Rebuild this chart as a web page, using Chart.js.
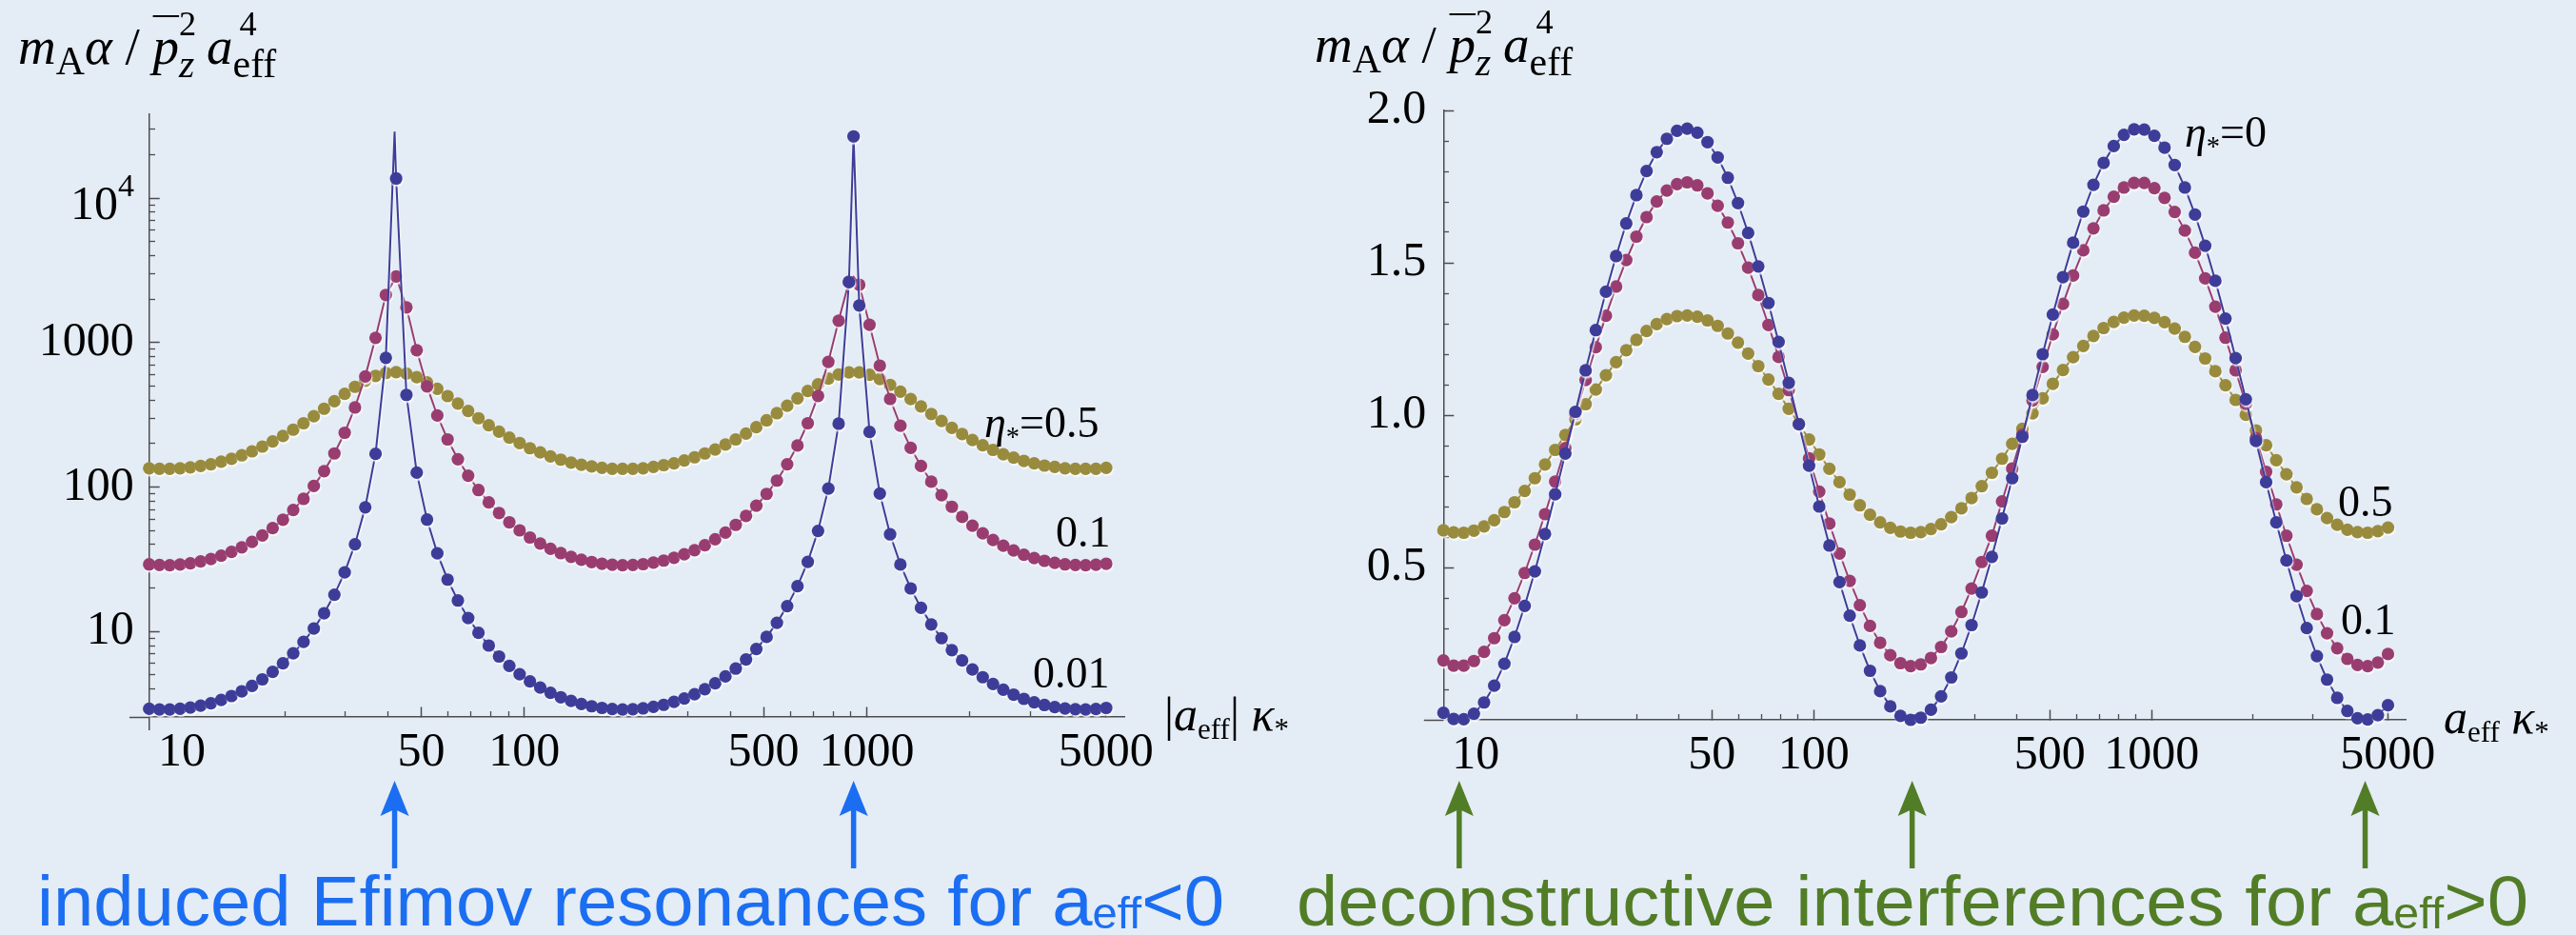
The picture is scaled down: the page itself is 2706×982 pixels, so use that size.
<!DOCTYPE html>
<html>
<head>
<meta charset="utf-8">
<title>Three-body loss rate versus effective scattering length</title>
<script src="https://cdn.jsdelivr.net/npm/chart.js@4.4.1/dist/chart.umd.min.js"></script>
<style>
  html, body { margin: 0; padding: 0; }
  body { width: 2706px; height: 982px; position: relative; overflow: hidden; background: #e4ecf5; }
  canvas { position: absolute; top: 0; }
  #chartNeg { left: 0; }
  #chartPos { left: 1353px; }
  .m { position: absolute; white-space: nowrap; font-family: 'Liberation Serif', 'Times New Roman', serif; color: #000; line-height: 1; }
  .m i { font-style: italic; }
  .sb { font-size: 0.62em; position: relative; top: 0.3em; }
  .ttl .sa { font-size: 0.76em; position: relative; top: 0.27em; }
  .ov { text-decoration: overline; text-decoration-thickness: 2px; }
  .stk { display: inline-block; position: relative; height: 0; }
  .stk .u { position: absolute; left: 0; bottom: 0.66em; font-size: 0.66em; line-height: 1; }
  .stk .d { position: absolute; left: 0; top: -0.48em; font-size: 0.76em; line-height: 1; }
  .cap { position: absolute; white-space: nowrap; font-family: 'Liberation Sans', Arial, sans-serif; font-size: 74px; line-height: 1; transform-origin: 0 0; }
  .cap .csb { font-size: 0.62em; position: relative; top: 0.06em; }
</style>
</head>
<body>
<canvas id="chartNeg" width="1353" height="982"></canvas>
<canvas id="chartPos" width="1353" height="982"></canvas>

<div class="m ttl" style="left:19px;top:21px;font-size:55px"><i>m</i><span class="sa">A</span><i>α</i> / <i class="ov">p</i><span class="stk" style="width:29px"><span class="u">2</span><span class="d"><i>z</i></span></span><i>a</i><span class="stk" style="width:50px"><span class="u" style="left:7px">4</span><span class="d">eff</span></span></div>
<div class="m ttl" style="left:1381px;top:19px;font-size:55px"><i>m</i><span class="sa">A</span><i>α</i> / <i class="ov">p</i><span class="stk" style="width:29px"><span class="u">2</span><span class="d"><i>z</i></span></span><i>a</i><span class="stk" style="width:50px"><span class="u" style="left:7px">4</span><span class="d">eff</span></span></div>

<div class="m" style="left:1034px;top:421px;font-size:46px"><i>η</i><span class="sb">*</span>=0.5</div>
<div class="m" style="left:1109px;top:536px;font-size:46px">0.1</div>
<div class="m" style="left:1085px;top:684px;font-size:46px">0.01</div>
<div class="m" style="left:1223px;top:725px;font-size:50px">|<i>a</i><span class="sb">eff</span>| <i>κ</i><span class="sb">*</span></div>

<div class="m" style="left:2295px;top:116px;font-size:46px"><i>η</i><span class="sb">*</span>=0</div>
<div class="m" style="left:2456px;top:504px;font-size:46px">0.5</div>
<div class="m" style="left:2459px;top:628px;font-size:46px">0.1</div>
<div class="m" style="left:2567px;top:728px;font-size:50px"><i>a</i><span class="sb">eff</span> <i>κ</i><span class="sb">*</span></div>

<div class="cap" data-w="1247" style="left:39px;top:910px;color:#1b6ef2">induced Efimov resonances for a<span class="csb">eff</span>&lt;0</div>
<div class="cap" data-w="1294" style="left:1362px;top:910px;color:#527d27">deconstructive interferences for a<span class="csb">eff</span>&gt;0</div>

<script>
// Sample points |a_eff| κ* shared by every curve
const aGrid = [8.030, 8.605, 9.222, 9.883, 10.591, 11.350, 12.163, 13.034, 13.968, 14.969,
  16.042, 17.191, 18.423, 19.743, 21.157, 22.673, 24.298, 26.039, 27.904, 29.904,
  32.046, 34.343, 36.803, 39.440, 42.266, 45.294, 48.540, 52.018, 55.745, 59.739,
  64.019, 68.606, 73.522, 78.790, 84.435, 90.485, 96.968, 103.92, 111.36, 119.34,
  127.89, 137.05, 146.87, 157.40, 168.68, 180.76, 193.71, 207.59, 222.47, 238.41,
  255.49, 273.79, 293.41, 314.43, 336.96, 361.11, 386.98, 414.71, 444.42, 476.26,
  510.39, 546.96, 586.15, 628.14, 673.15, 721.38, 773.07, 828.46, 887.82, 951.43,
  1019.6, 1092.7, 1170.9, 1254.8, 1344.8, 1441.1, 1544.4, 1655.0, 1773.6, 1900.7,
  2036.9, 2182.8, 2339.2, 2506.8, 2686.4, 2878.9, 3085.2, 3306.2, 3543.1, 3797.0,
  4069.0, 4360.6, 4673.0, 5007.8];

// a_eff < 0 : induced Efimov resonances
const negEta001 = [2.92, 2.89, 2.89, 2.92, 2.98, 3.07, 3.19, 3.36, 3.58, 3.86,
  4.21, 4.67, 5.26, 6.03, 7.07, 8.48, 10.5, 13.4, 18.0, 25.7,
  40.2, 72.5, 170, 785, 13700, 435, 126, 59.6, 34.8, 22.9,
  16.4, 12.4, 9.80, 8.00, 6.72, 5.78, 5.07, 4.52, 4.10, 3.77,
  3.51, 3.31, 3.15, 3.04, 2.96, 2.91, 2.89, 2.90, 2.94, 3.01,
  3.11, 3.26, 3.44, 3.68, 3.99, 4.38, 4.89, 5.54, 6.41, 7.58,
  9.19, 11.5, 15.0, 20.6, 30.4, 49.8, 97.7, 275, 2620, 1810,
  241, 90.3, 47.1, 29.1, 19.9, 14.6, 11.2, 9.00, 7.44, 6.31,
  5.47, 4.83, 4.34, 3.96, 3.66, 3.42, 3.24, 3.10, 3.00, 2.93,
  2.90, 2.89, 2.91, 2.96];
const negEta01 = [29.2, 28.9, 28.8, 29.1, 29.7, 30.6, 31.8, 33.5, 35.6, 38.3,
  41.8, 46.3, 52.0, 59.5, 69.5, 82.9, 102, 129, 171, 238,
  356, 584, 1080, 2140, 2870, 1755, 887, 498, 313, 214,
  156, 120, 95.4, 78.4, 66.2, 57.1, 50.2, 44.8, 40.7, 37.4,
  34.9, 32.9, 31.4, 30.3, 29.5, 29.0, 28.8, 28.9, 29.3, 30.0,
  31.0, 32.4, 34.3, 36.6, 39.6, 43.5, 48.4, 54.8, 63.2, 74.3,
  89.7, 111, 144, 194, 277, 428, 736, 1420, 2640, 2520,
  1330, 694, 408, 266, 187, 140, 109, 87.9, 73.1, 62.2,
  54.1, 47.9, 43.1, 39.3, 36.4, 34.0, 32.3, 30.9, 29.9, 29.2,
  28.9, 28.8, 29.0, 29.5];
const negEta05 = [135, 134, 134, 135, 137, 140, 144, 150, 157, 166,
  177, 191, 207, 226, 250, 277, 310, 349, 393, 442,
  495, 546, 589, 617, 625, 611, 577, 531, 479, 427,
  379, 337, 300, 268, 242, 220, 202, 186, 174, 163,
  155, 148, 143, 139, 136, 134, 134, 134, 135, 138,
  142, 146, 153, 161, 171, 182, 197, 214, 235, 260,
  290, 325, 366, 412, 463, 515, 564, 602, 623, 622,
  599, 560, 510, 458, 407, 362, 321, 287, 257, 233,
  212, 195, 181, 169, 160, 152, 146, 141, 138, 135,
  134, 134, 134, 136];
// resonance tips of the narrow curves
const tipX001 = [41.83, 915.9];
const tipY001 = [28900, 26800];
const tipDot001 = [false, true];
const tipX01 = [915.9];
const tipY01 = [2850];

// a_eff > 0 : deconstructive interferences
const posEta0 = [0.023, 0.003, 0.002, 0.020, 0.057, 0.112, 0.184, 0.272, 0.374, 0.487,
  0.610, 0.740, 0.874, 1.011, 1.147, 1.279, 1.405, 1.522, 1.629, 1.722,
  1.801, 1.863, 1.907, 1.933, 1.940, 1.927, 1.896, 1.846, 1.779, 1.696,
  1.598, 1.488, 1.368, 1.240, 1.106, 0.970, 0.834, 0.700, 0.572, 0.452,
  0.342, 0.244, 0.161, 0.094, 0.044, 0.013, 0.000, 0.007, 0.033, 0.077,
  0.139, 0.218, 0.311, 0.418, 0.535, 0.661, 0.793, 0.929, 1.066, 1.200,
  1.330, 1.453, 1.566, 1.668, 1.756, 1.828, 1.883, 1.920, 1.938, 1.937,
  1.917, 1.878, 1.821, 1.747, 1.658, 1.556, 1.441, 1.317, 1.187, 1.052,
  0.915, 0.780, 0.648, 0.523, 0.406, 0.301, 0.209, 0.132, 0.072, 0.029,
  0.005, 0.001, 0.015, 0.048];
const posEta01 = [0.195, 0.178, 0.178, 0.193, 0.223, 0.268, 0.327, 0.399, 0.482, 0.575,
  0.675, 0.782, 0.892, 1.004, 1.115, 1.223, 1.326, 1.422, 1.509, 1.586,
  1.650, 1.701, 1.737, 1.758, 1.764, 1.754, 1.728, 1.687, 1.632, 1.564,
  1.484, 1.394, 1.296, 1.191, 1.082, 0.970, 0.858, 0.749, 0.644, 0.546,
  0.456, 0.376, 0.308, 0.253, 0.212, 0.186, 0.176, 0.182, 0.203, 0.239,
  0.290, 0.354, 0.431, 0.518, 0.604, 0.717, 0.825, 0.936, 1.048, 1.158,
  1.265, 1.365, 1.458, 1.541, 1.613, 1.672, 1.717, 1.747, 1.762, 1.762,
  1.745, 1.713, 1.667, 1.606, 1.533, 1.449, 1.356, 1.254, 1.147, 1.037,
  0.925, 0.814, 0.707, 0.604, 0.509, 0.423, 0.347, 0.284, 0.235, 0.200,
  0.180, 0.176, 0.188, 0.216];
const posEta05 = [0.622, 0.615, 0.614, 0.621, 0.635, 0.655, 0.682, 0.714, 0.751, 0.793,
  0.838, 0.886, 0.935, 0.986, 1.036, 1.084, 1.131, 1.174, 1.213, 1.247,
  1.276, 1.299, 1.315, 1.325, 1.327, 1.323, 1.311, 1.293, 1.268, 1.238,
  1.202, 1.161, 1.117, 1.070, 1.021, 0.971, 0.920, 0.871, 0.824, 0.780,
  0.739, 0.704, 0.673, 0.648, 0.630, 0.618, 0.614, 0.616, 0.626, 0.642,
  0.665, 0.694, 0.728, 0.767, 0.811, 0.857, 0.906, 0.955, 1.006, 1.055,
  1.103, 1.148, 1.190, 1.227, 1.260, 1.286, 1.306, 1.320, 1.327, 1.326,
  1.319, 1.305, 1.284, 1.257, 1.224, 1.186, 1.144, 1.098, 1.050, 1.001,
  0.950, 0.901, 0.852, 0.806, 0.763, 0.725, 0.691, 0.662, 0.640, 0.624,
  0.616, 0.614, 0.619, 0.631];

// tick values
const xMajorTicks = [10, 50, 100, 500, 1000, 5000];
const xMinorTicks = [20, 30, 40, 60, 70, 80, 90, 200, 300, 400, 600, 700, 800, 900, 2000, 3000, 4000];
const yNegMajorTicks = [10, 100, 1000, 10000];
const yNegMinorTicks = [3, 4, 5, 6, 7, 8, 9, 20, 30, 40, 50, 60, 70, 80, 90,
  200, 300, 400, 500, 600, 700, 800, 900, 2000, 3000, 4000, 5000, 6000, 7000, 8000, 9000, 20000, 30000];
const yPosMajorTicks = [0.5, 1.0, 1.5, 2.0];
const yPosMinorTicks = [0.1, 0.2, 0.3, 0.4, 0.6, 0.7, 0.8, 0.9, 1.1, 1.2, 1.3, 1.4, 1.6, 1.7, 1.8, 1.9];

// arrow marks under the axes
const resonanceMarks = [41.83, 915.9];
const minimumMarks = [8.94, 195.7, 4286];

const X_MIN = 8.03, X_MAX = 5679, X_AXIS_START = 7.03;
const NEG_Y_MIN = 2.082, NEG_Y_MAX = 38150, NEG_AXIS_Y = 2.575;

const C_BLUE = 'rgb(61,61,153)';
const C_RED = 'rgb(153,61,113)';
const C_OLIVE = 'rgb(153,139,61)';
const AXIS_COLOR = '#4d4d4d';
const SERIF = "'Liberation Serif', 'Times New Roman', serif";
const DOT = 6.6;

function points(xs, ys, dots) {
  return xs.map((x, i) => ({x: x, y: ys[i], dot: dots ? dots[i] : true}));
}
function merged(base, extra) {
  return base.concat(extra).sort((a, b) => a.x - b.x);
}
function curve(label, data, color) {
  return {
    label: label, data: data,
    borderColor: color, backgroundColor: color,
    borderWidth: 2, tension: 0, fill: false, clip: false,
    pointRadius: c => (c.raw && c.raw.dot === false) ? 0 : DOT,
    pointHoverRadius: c => (c.raw && c.raw.dot === false) ? 0 : DOT,
    pointBorderWidth: 0
  };
}
function useTicks(list) {
  return s => { s.ticks = list.map(v => ({value: v})); };
}
function majorAxis(extra) {
  return Object.assign({
    border: {display: true, color: AXIS_COLOR, width: 1.5},
    grid: {display: true, drawOnChartArea: false, drawTicks: true, tickLength: -11, tickColor: AXIS_COLOR, tickWidth: 1.5}
  }, extra);
}
function minorAxis(extra) {
  return Object.assign({
    border: {display: false},
    grid: {display: true, drawOnChartArea: false, drawTicks: true, tickLength: -6, tickColor: AXIS_COLOR, tickWidth: 1.3},
    ticks: {display: false, autoSkip: false}
  }, extra);
}
const xTickOpts = {autoSkip: false, maxRotation: 0, minRotation: 0, padding: 19, color: '#000',
  font: {family: SERIF, size: 50}, callback: v => String(v)};

const paperShadow = {
  id: 'paperShadow',
  beforeDatasetsDraw(chart) {
    const c = chart.ctx; c.save();
    c.shadowColor = 'rgba(255,255,255,0.85)'; c.shadowOffsetX = 1; c.shadowOffsetY = 2; c.shadowBlur = 1.5;
  },
  afterDatasetsDraw(chart) { chart.ctx.restore(); }
};
// the horizontal axis runs on a little past the vertical one
const axisStub = {
  id: 'axisStub',
  afterDraw(chart) {
    const c = chart.ctx, sx = chart.scales.x, sy = chart.scales.y;
    const py = Math.round(sy.getPixelForValue(sx.options.position.y)) + 0.5;
    c.save(); c.strokeStyle = AXIS_COLOR; c.lineWidth = 1.5;
    c.beginPath(); c.moveTo(sx.getPixelForValue(X_AXIS_START), py); c.lineTo(chart.chartArea.left, py); c.stroke();
    c.restore();
  }
};
function arrowMarks(values, color) {
  return {
    id: 'arrowMarks',
    afterDraw(chart) {
      const c = chart.ctx, s = chart.scales.x;
      c.save(); c.fillStyle = color; c.strokeStyle = color; c.lineWidth = 5.5;
      values.forEach(v => {
        const x = s.getPixelForValue(v);
        c.beginPath(); c.moveTo(x, 912); c.lineTo(x, 848); c.stroke();
        c.beginPath(); c.moveTo(x, 820); c.lineTo(x - 15, 857); c.lineTo(x, 850); c.lineTo(x + 15, 857); c.closePath(); c.fill();
      });
      c.restore();
    }
  };
}
const powerLabel = {
  id: 'powerLabel',
  afterDraw(chart) {
    const c = chart.ctx, s = chart.scales.y;
    const y = s.getPixelForValue(10000);
    c.save(); c.fillStyle = '#000'; c.textAlign = 'right'; c.textBaseline = 'alphabetic';
    c.font = '34px ' + SERIF; c.fillText('4', 141, y - 2);
    const w = c.measureText('4').width;
    c.font = '50px ' + SERIF; c.fillText('10', 141 - w, y + 22);
    c.restore();
  }
};

const common = {
  responsive: false, animation: false, devicePixelRatio: 1, events: [],
  plugins: {legend: {display: false}, tooltip: {enabled: false}}
};

// left panel: a_eff < 0, logarithmic y
new Chart(document.getElementById('chartNeg'), {
  type: 'line',
  data: {datasets: [
    curve('η*=0.01', merged(points(aGrid, negEta001), points(tipX001, tipY001, tipDot001)), C_BLUE),
    curve('η*=0.1', merged(points(aGrid, negEta01), points(tipX01, tipY01, [false])), C_RED),
    curve('η*=0.5', points(aGrid, negEta05), C_OLIVE)
  ]},
  options: Object.assign({}, common, {
    layout: {padding: {left: 0, top: 120, right: 171.3, bottom: 215.3}},
    scales: {
      x: majorAxis({type: 'logarithmic', min: X_MIN, max: X_MAX, position: {y: NEG_AXIS_Y},
        afterBuildTicks: useTicks(xMajorTicks), ticks: xTickOpts}),
      xm: minorAxis({type: 'logarithmic', axis: 'x', min: X_MIN, max: X_MAX, position: {y: NEG_AXIS_Y},
        afterBuildTicks: useTicks(xMinorTicks)}),
      y: majorAxis({type: 'logarithmic', position: 'left', min: NEG_Y_MIN, max: NEG_Y_MAX,
        afterFit: s => { s.width = 156.7; },
        afterBuildTicks: useTicks(yNegMajorTicks),
        ticks: {autoSkip: false, padding: 27, color: '#000', font: {family: SERIF, size: 50},
          callback: v => (v === 10000 ? '' : String(v))}}),
      ym: minorAxis({type: 'logarithmic', axis: 'y', min: NEG_Y_MIN, max: NEG_Y_MAX, position: {x: X_MIN},
        afterBuildTicks: useTicks(yNegMinorTicks)})
    }
  }),
  plugins: [paperShadow, axisStub, powerLabel, arrowMarks(resonanceMarks, '#1b6ef2')]
});

// right panel: a_eff > 0, linear y
new Chart(document.getElementById('chartPos'), {
  type: 'line',
  data: {datasets: [
    curve('η*=0', points(aGrid, posEta0), C_BLUE),
    curve('η*=0.1', points(aGrid, posEta01), C_RED),
    curve('η*=0.5', points(aGrid, posEta05), C_OLIVE)
  ]},
  options: Object.assign({}, common, {
    layout: {padding: {left: 0, top: 116, right: 178.1, bottom: 226}},
    scales: {
      x: majorAxis({type: 'logarithmic', min: X_MIN, max: X_MAX, position: {y: 0},
        afterBuildTicks: useTicks(xMajorTicks), ticks: xTickOpts}),
      xm: minorAxis({type: 'logarithmic', axis: 'x', min: X_MIN, max: X_MAX, position: {y: 0},
        afterBuildTicks: useTicks(xMinorTicks)}),
      y: majorAxis({type: 'linear', position: 'left', min: 0, max: 2,
        afterFit: s => { s.width = 163.3; },
        afterBuildTicks: useTicks(yPosMajorTicks),
        ticks: {autoSkip: false, padding: 29, color: '#000', font: {family: SERIF, size: 50},
          callback: v => v.toFixed(1)}}),
      ym: minorAxis({type: 'linear', axis: 'y', min: 0, max: 2, position: {x: X_MIN},
        afterBuildTicks: useTicks(yPosMinorTicks)})
    }
  }),
  plugins: [paperShadow, axisStub, arrowMarks(minimumMarks, '#527d27')]
});

// stretch the captions to their measured extents
function fitCaptions() {
  document.querySelectorAll('.cap').forEach(el => {
    el.style.transform = 'none';
    const w = el.getBoundingClientRect().width;
    el.style.transform = 'scaleX(' + (Number(el.dataset.w) / w) + ')';
  });
}
fitCaptions();
if (document.fonts && document.fonts.ready) document.fonts.ready.then(fitCaptions);
</script>
</body>
</html>
